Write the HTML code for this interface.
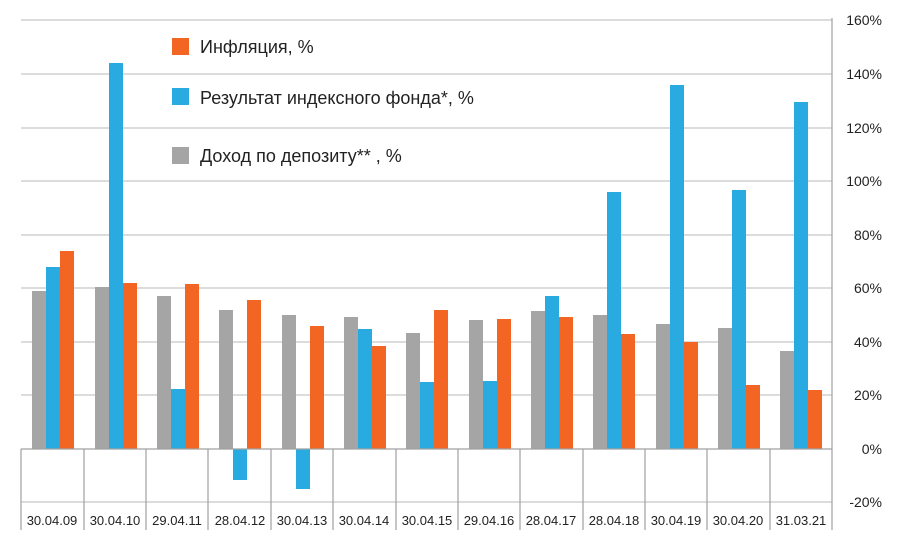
<!DOCTYPE html>
<html><head><meta charset="utf-8"><style>
html,body{margin:0;padding:0;background:#fff;}
svg{display:block;font-family:"Liberation Sans",sans-serif;}
</style></head><body>
<svg width="899" height="547" viewBox="0 0 899 547">
<g stroke="#c8c8c8" stroke-width="1.2">
<line x1="21" y1="20" x2="832" y2="20"/>
<line x1="21" y1="74" x2="832" y2="74"/>
<line x1="21" y1="128" x2="832" y2="128"/>
<line x1="21" y1="181" x2="832" y2="181"/>
<line x1="21" y1="235" x2="832" y2="235"/>
<line x1="21" y1="288" x2="832" y2="288"/>
<line x1="21" y1="342" x2="832" y2="342"/>
<line x1="21" y1="395" x2="832" y2="395"/>
<line x1="21" y1="502" x2="832" y2="502"/>
</g>
<g fill="#a5a5a5">
<rect x="32" y="291" width="14" height="158"/>
<rect x="95" y="287" width="14" height="162"/>
<rect x="157" y="296" width="14" height="153"/>
<rect x="219" y="310" width="14" height="139"/>
<rect x="282" y="315" width="14" height="134"/>
<rect x="344" y="317" width="14" height="132"/>
<rect x="406" y="333" width="14" height="116"/>
<rect x="469" y="320" width="14" height="129"/>
<rect x="531" y="311" width="14" height="138"/>
<rect x="593" y="315" width="14" height="134"/>
<rect x="656" y="324" width="14" height="125"/>
<rect x="718" y="328" width="14" height="121"/>
<rect x="780" y="351" width="14" height="98"/>
</g>
<g fill="#29abe2">
<rect x="46" y="267" width="14" height="182"/>
<rect x="109" y="63" width="14" height="386"/>
<rect x="171" y="389" width="14" height="60"/>
<rect x="233" y="449" width="14" height="31"/>
<rect x="296" y="449" width="14" height="40"/>
<rect x="358" y="329" width="14" height="120"/>
<rect x="420" y="382" width="14" height="67"/>
<rect x="483" y="381" width="14" height="68"/>
<rect x="545" y="296" width="14" height="153"/>
<rect x="607" y="192" width="14" height="257"/>
<rect x="670" y="85" width="14" height="364"/>
<rect x="732" y="190" width="14" height="259"/>
<rect x="794" y="102" width="14" height="347"/>
</g>
<g fill="#f26522">
<rect x="60" y="251" width="14" height="198"/>
<rect x="123" y="283" width="14" height="166"/>
<rect x="185" y="284" width="14" height="165"/>
<rect x="247" y="300" width="14" height="149"/>
<rect x="310" y="326" width="14" height="123"/>
<rect x="372" y="346" width="14" height="103"/>
<rect x="434" y="310" width="14" height="139"/>
<rect x="497" y="319" width="14" height="130"/>
<rect x="559" y="317" width="14" height="132"/>
<rect x="621" y="334" width="14" height="115"/>
<rect x="684" y="342" width="14" height="107"/>
<rect x="746" y="385" width="14" height="64"/>
<rect x="808" y="390" width="14" height="59"/>
</g>
<g stroke="#a0a0a0" stroke-width="1.2">
<line x1="21" y1="449" x2="832" y2="449"/>
<line x1="832" y1="18" x2="832" y2="530"/>
<line x1="21" y1="449" x2="21" y2="530"/>
<line x1="84" y1="449" x2="84" y2="530"/>
<line x1="146" y1="449" x2="146" y2="530"/>
<line x1="208" y1="449" x2="208" y2="530"/>
<line x1="271" y1="449" x2="271" y2="530"/>
<line x1="333" y1="449" x2="333" y2="530"/>
<line x1="396" y1="449" x2="396" y2="530"/>
<line x1="458" y1="449" x2="458" y2="530"/>
<line x1="520" y1="449" x2="520" y2="530"/>
<line x1="583" y1="449" x2="583" y2="530"/>
<line x1="645" y1="449" x2="645" y2="530"/>
<line x1="707" y1="449" x2="707" y2="530"/>
<line x1="770" y1="449" x2="770" y2="530"/>
</g>
<g font-size="13" fill="#222" text-anchor="middle">
<text x="52" y="525">30.04.09</text>
<text x="115" y="525">30.04.10</text>
<text x="177" y="525">29.04.11</text>
<text x="240" y="525">28.04.12</text>
<text x="302" y="525">30.04.13</text>
<text x="364" y="525">30.04.14</text>
<text x="427" y="525">30.04.15</text>
<text x="489" y="525">29.04.16</text>
<text x="551" y="525">28.04.17</text>
<text x="614" y="525">28.04.18</text>
<text x="676" y="525">30.04.19</text>
<text x="738" y="525">30.04.20</text>
<text x="801" y="525">31.03.21</text>
</g>
<g font-size="14" fill="#222" text-anchor="end">
<text x="882" y="25">160%</text>
<text x="882" y="79">140%</text>
<text x="882" y="133">120%</text>
<text x="882" y="186">100%</text>
<text x="882" y="240">80%</text>
<text x="882" y="293">60%</text>
<text x="882" y="347">40%</text>
<text x="882" y="400">20%</text>
<text x="882" y="454">0%</text>
<text x="882" y="507">-20%</text>
</g>
<rect x="172" y="38" width="17" height="17" fill="#f26522"/>
<rect x="172" y="88" width="17" height="17" fill="#29abe2"/>
<rect x="172" y="147" width="17" height="17" fill="#a5a5a5"/>
<g font-size="18" fill="#222">
<text x="200" y="53">Инфляция, %</text>
<text x="200" y="104">Результат индексного фонда*, %</text>
<text x="200" y="162">Доход по депозиту** , %</text>
</g>
</svg>
</body></html>
